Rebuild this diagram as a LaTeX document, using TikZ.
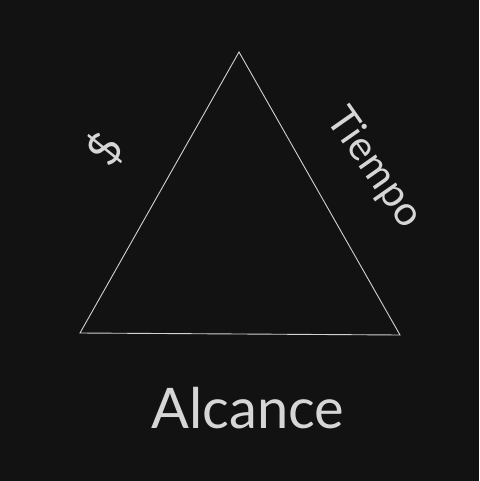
\documentclass[tikz,border=0pt]{standalone}
\usepackage{fontspec}
\setmainfont{Lato}
\definecolor{fondo}{HTML}{121212}
\definecolor{trazo}{HTML}{D2D2D2}
\definecolor{texto}{HTML}{D6D6D6}
\begin{document}
\begin{tikzpicture}[x=1pt, y=-1pt]
    % fondo
    \fill[fondo] (0,0) rectangle (479,481);
    \useasboundingbox (0,0) rectangle (479,481);

    % vertices del triangulo
    \coordinate (arriba) at (239,52);
    \coordinate (izq) at (80,333);
    \coordinate (der) at (400,335);
    \draw[trazo, line width=0.9pt] (izq) -- (arriba) -- (der) -- cycle;

    % etiquetas de los lados
    \node[texto, rotate=55, font=\fontsize{46}{50}\selectfont] (costo) at (105,149) {\$};
    \node[texto, rotate=-55, font=\fontsize{41}{45}\selectfont] (tiempo) at (374,168) {Tiempo};
    \node[texto, font=\fontsize{56}{60}\selectfont] (alcance) at (248,408) {Alcance};
  \end{tikzpicture}
\end{document}
